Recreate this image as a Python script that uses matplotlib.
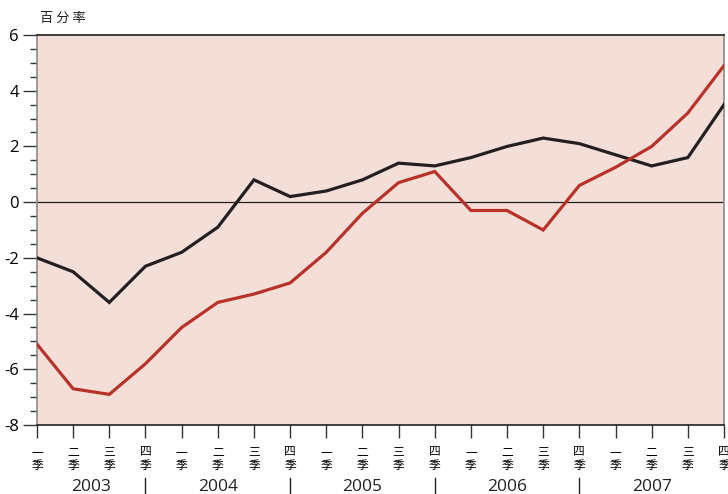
import matplotlib
matplotlib.use("Agg")
import matplotlib.pyplot as plt
from matplotlib.ticker import MultipleLocator
import matplotlib.transforms as mtransforms

plt.rcParams['font.family'] = ['Open Sans', 'Noto Sans CJK SC', 'DejaVu Sans']

quarters = ["一\n季", "二\n季", "三\n季", "四\n季"] * 5
years = ["2003", "2004", "2005", "2006", "2007"]
series_black = [-2.0, -2.5, -3.6, -2.3, -1.8, -0.9, 0.8, 0.2, 0.4, 0.8,
                1.4, 1.3, 1.6, 2.0, 2.3, 2.1, 1.7, 1.3, 1.6, 3.5]
series_red = [-5.1, -6.7, -6.9, -5.8, -4.5, -3.6, -3.3, -2.9, -1.8, -0.4,
              0.7, 1.1, -0.3, -0.3, -1.0, 0.6, 1.25, 2.0, 3.2, 4.9]
y_label = "百 分 率"

bg = "#F3DFD7"
red = "#B83229"
black = "#231F20"

fig = plt.figure(figsize=(7.28, 4.94), dpi=100)
ax = fig.add_axes([37 / 728, 1 - 425 / 494, 687 / 728, 390 / 494])
ax.set_facecolor(bg)

x = list(range(len(quarters)))
ax.axhline(0, color=black, lw=0.9, zorder=1)
ax.plot(x, series_black, color=black, lw=2.3, zorder=3, solid_joinstyle='miter')
ax.plot(x, series_red, color=red, lw=2.3, zorder=3, solid_joinstyle='miter')

ax.set_xlim(0, len(quarters) - 1)
ax.set_ylim(-8, 6)
ax.yaxis.set_major_locator(MultipleLocator(2))
ax.yaxis.set_minor_locator(MultipleLocator(0.5))
ax.tick_params(axis='y', which='major', length=10, width=1, color='#333333',
               labelsize=12, pad=3)
ax.tick_params(axis='y', which='minor', length=5, width=1, color='#333333')
ax.set_yticks(range(-8, 7, 2))
ax.set_yticklabels([str(v) for v in range(-8, 7, 2)])

ax.set_xticks(x)
ax.set_xticklabels(quarters, fontsize=8.5, linespacing=1.0,
                   family=['Noto Sans CJK SC', 'DejaVu Sans'])
ax.tick_params(axis='x', which='major', length=9, width=1, color='#333333', pad=6)

for side in ('top', 'bottom'):
    ax.spines[side].set_color(black)
    ax.spines[side].set_linewidth(1.2)
for side in ('left', 'right'):
    ax.spines[side].set_color('#8a8a8a')
    ax.spines[side].set_linewidth(1.2)

trans = mtransforms.blended_transform_factory(ax.transData, ax.transAxes)
# year separators under each fourth quarter
for i in range(3, len(quarters) - 1, 4):
    ax.plot([i, i], [-0.136, -0.174], transform=trans, color=black, lw=1,
            clip_on=False)
# year labels centred between separators
edges = [0] + list(range(3, len(quarters) - 1, 4)) + [len(quarters) - 1]
for k, yr in enumerate(years):
    cx = (edges[k] + edges[k + 1]) / 2
    ax.text(cx, -0.158, yr, transform=trans, ha='center', va='center',
            fontsize=12.5, color=black)

fig.text(40 / 728, 1 - 18 / 494, y_label, ha='left', va='center', fontsize=9.5,
         family=['Noto Sans CJK SC', 'DejaVu Sans'], color=black)

fig.savefig("out.png", dpi=100)
